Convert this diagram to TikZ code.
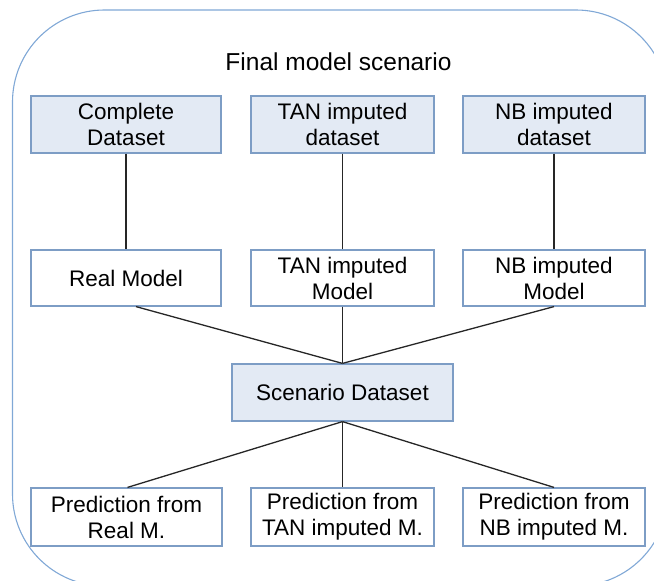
\documentclass[tikz,border=0pt]{standalone}
\usepackage{fontspec}
\setmainfont{Liberation Sans}

\definecolor{boxblue}{HTML}{E3EAF4}
\definecolor{boxline}{HTML}{7D9DC5}
\definecolor{frameline}{HTML}{80A8D6}

\tikzset{
  databox/.style={draw=boxline, fill=boxblue, line width=1.2pt, align=center, inner sep=0pt},
  modelbox/.style={draw=boxline, fill=white, line width=1.2pt, align=center, inner sep=0pt},
  link/.style={draw=black!85, line width=1.3pt}
}

\begin{document}
\begin{tikzpicture}[x=1pt, y=-1pt, font=\fontsize{22.5}{26}\selectfont]

\clip (0,0) rectangle (654,581);
\useasboundingbox (0,0) rectangle (654,581);

\draw [frameline, line width=1.1pt, rounded corners=92] (12.5,10) rectangle (668,586);

\coordinate (title-label) at (338.5,62);
\coordinate (complete-label) at (126,124.5);
\coordinate (tan-data-label) at (342.5,124.5);
\coordinate (nb-data-label) at (554,124.5);
\coordinate (real-model-label) at (126,278);
\coordinate (tan-model-label) at (342.5,278);
\coordinate (nb-model-label) at (554,278);
\coordinate (scenario-label) at (342.5,392.5);
\coordinate (pred-real-label) at (126.5,517);
\coordinate (pred-tan-label) at (342.5,517);
\coordinate (pred-nb-label) at (554,517);

\node [font=\fontsize{24.5}{28}\selectfont] (title) at (title-label) {Final model scenario};

\node [databox, minimum width=190, minimum height=57] (complete) at (complete-label) {Complete\\Dataset};
\node [databox, minimum width=183, minimum height=57] (tan-data) at (tan-data-label) {TAN imputed\\dataset};
\node [databox, minimum width=182, minimum height=57] (nb-data) at (nb-data-label) {NB imputed\\dataset};

\node [modelbox, minimum width=190, minimum height=56] (real-model) at (real-model-label) {Real Model};
\node [modelbox, minimum width=183, minimum height=56] (tan-model) at (tan-model-label) {TAN imputed\\Model};
\node [modelbox, minimum width=182, minimum height=56] (nb-model) at (nb-model-label) {NB imputed\\Model};

\node [databox, minimum width=221, minimum height=57] (scenario) at (scenario-label) {Scenario Dataset};

\node [modelbox, minimum width=191, minimum height=58] (pred-real) at (pred-real-label) {Prediction from\\Real M.};
\node [modelbox, minimum width=183, minimum height=58] (pred-tan) at (pred-tan-label) {Prediction from\\TAN imputed M.};
\node [modelbox, minimum width=182, minimum height=58] (pred-nb) at (pred-nb-label) {Prediction from\\NB imputed M.};

\draw [link] (complete) -- (real-model);
\draw [link] (tan-data) -- (tan-model);
\draw [link] (nb-data) -- (nb-model);
\draw [link] ([xshift=10]real-model.south) -- (scenario.north);
\draw [link] (tan-model) -- (scenario);
\draw [link] (nb-model.south) -- (scenario.north);
\draw [link] (scenario.south) -- ([xshift=1]pred-real.north);
\draw [link] (scenario) -- (pred-tan);
\draw [link] (scenario.south) -- (pred-nb.north);

\end{tikzpicture}
\end{document}
